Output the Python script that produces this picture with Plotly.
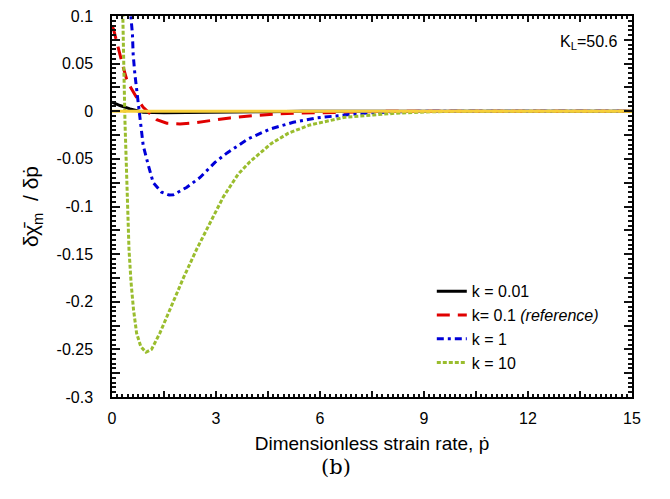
import plotly.graph_objects as go

# ---- data ----
p_k001 = [0, 0.23, 0.52, 0.9, 1.5, 2.5, 3.5, 4.5, 5.5, 15]
v_k001 = [0.0095, 0.006, 0.0025, -0.001, -0.0015, -0.0014, -0.001, -0.0005, 0, 0]

p_k01 = [0, 0.04, 0.13, 0.23, 0.31, 0.42, 0.54, 0.76, 0.9, 1.05, 1.29, 1.58, 1.96,
         2.3, 2.73, 3.4, 4.12, 4.75, 5.42, 6.08, 7.0, 8, 15]
v_k01 = [0.089, 0.0866, 0.074, 0.0586, 0.048, 0.034, 0.025, 0.0113, 0.0042, -0.001,
         -0.0088, -0.0126, -0.0133, -0.0125, -0.0105, -0.007, -0.0045, -0.0028,
         -0.002, -0.0014, -0.0006, 0, 0]

p_k1 = [0.52, 0.55, 0.59, 0.61, 0.66, 0.71, 0.76, 0.81, 0.9, 1.05, 1.19, 1.43, 1.65,
        1.77, 2.15, 2.54, 2.97, 3.31, 3.6, 3.93, 4.56, 4.89, 5.23, 5.9, 6.58, 7.24,
        8.0, 9, 15]
v_k1 = [0.13, 0.097, 0.081, 0.060, 0.039, 0.022, 0.0077, -0.012, -0.036, -0.057,
        -0.075, -0.085, -0.088, -0.0877, -0.080, -0.0695, -0.0537, -0.044, -0.0368,
        -0.029, -0.0186, -0.015, -0.0116, -0.007, -0.0045, -0.002, -0.0008, 0, 0]

p_k10 = [0.28, 0.32, 0.345, 0.375, 0.40, 0.44, 0.49, 0.55, 0.62, 0.71, 0.83, 0.98,
         1.14, 1.38, 1.72, 2.06, 2.44, 2.83, 3.21, 3.64, 3.98, 4.59, 5.09, 5.71,
         6.05, 6.72, 7.54, 8.2, 9.0, 10, 15]
v_k10 = [0.16, 0.102, 0.039, -0.012, -0.047, -0.099, -0.145, -0.18, -0.208, -0.233,
         -0.247, -0.253, -0.250, -0.233, -0.203, -0.175, -0.145, -0.117, -0.09,
         -0.066, -0.053, -0.034, -0.023, -0.0144, -0.0116, -0.0063, -0.0039, -0.002,
         -0.0008, 0, 0]

p_zero = [0, 15]
v_zero = [0, 0]

x_tickvals = [0, 3, 6, 9, 12, 15]
x_ticktext = ["0", "3", "6", "9", "12", "15"]
y_tickvals = [0.1, 0.05, 0, -0.05, -0.1, -0.15, -0.2, -0.25, -0.3]
y_ticktext = ["0.1", "0.05", "0", "-0.05", "-0.1", "-0.15", "-0.2", "-0.25", "-0.3"]

series_names = ["k = 0.01", "k= 0.1 <i>(reference)</i>", "k = 1", "k = 10"]

fig = go.Figure()
fig.add_trace(go.Scatter(x=[], y=[], xaxis="x2", yaxis="y2", showlegend=False,
                         hoverinfo="skip"))
fig.add_trace(go.Scatter(x=p_k001, y=v_k001, mode="lines", name=series_names[0],
                         line=dict(color="black", width=3)))
fig.add_trace(go.Scatter(x=p_k01, y=v_k01, mode="lines", name=series_names[1],
                         line=dict(color="#E00000", width=3, dash="13px,8px")))
fig.add_trace(go.Scatter(x=p_k1, y=v_k1, mode="lines", name=series_names[2],
                         line=dict(color="#0000D8", width=3, dash="7px,4px,3px,4px")))
fig.add_trace(go.Scatter(x=p_k10, y=v_k10, mode="lines", name=series_names[3],
                         line=dict(color="#9ABD2E", width=3, dash="4px,2px")))
fig.add_trace(go.Scatter(x=p_zero, y=v_zero, mode="lines", showlegend=False,
                         line=dict(color="#F7CF3A", width=3)))

axis_font = dict(family="Liberation Sans, Arial", size=16, color="black")
XR = [0, 15]
YR = [-0.3, 0.1]
TICKC = "#111111"

fig.update_layout(
    width=670, height=499,
    margin=dict(l=112, r=38, t=8, b=102),
    paper_bgcolor="white", plot_bgcolor="white",
    showlegend=True,
    legend=dict(x=0.615, y=0.322, xanchor="left", yanchor="top",
                bgcolor="rgba(0,0,0,0)", borderwidth=0, tracegroupgap=0,
                font=dict(family="Liberation Sans, Arial", size=16, color="black")),
    xaxis=dict(range=XR, showline=True, linecolor="black", linewidth=1.5,
               mirror="ticks", ticks="inside", ticklen=6, tickwidth=2,
               tickcolor=TICKC, tickmode="array", tickvals=x_tickvals,
               ticktext=x_ticktext, tickfont=axis_font, showgrid=False,
               zeroline=False, ticklabelstandoff=6,
               minor=dict(ticks="inside", ticklen=3, tickwidth=2,
                          tickcolor=TICKC, dtick=0.15, showgrid=False),
               title=dict(text="Dimensionless strain rate, p\u0307",
                          font=dict(family="Liberation Sans, Arial", size=19,
                                    color="black"), standoff=11)),
    yaxis=dict(range=YR, showline=True, linecolor="black", linewidth=1.5,
               mirror="ticks", ticks="inside", ticklen=8, tickwidth=2,
               tickcolor=TICKC, tickmode="array", tickvals=y_tickvals,
               ticktext=y_ticktext, tickfont=axis_font, showgrid=False,
               zeroline=False, ticklabelstandoff=14,
               minor=dict(ticks="inside", ticklen=4, tickwidth=2,
                          tickcolor=TICKC, dtick=0.005, showgrid=False),
               title=dict(text="\u03b4\u03c7\u0304<sub>m</sub>  / \u03b4p\u0307",
                          font=dict(family="Liberation Sans, Arial", size=21,
                                    color="black"), standoff=12)),
    xaxis2=dict(range=XR, overlaying="x", anchor="y2", side="bottom",
                showline=False, mirror="ticks", ticks="inside", ticklen=6,
                tickwidth=2, tickcolor=TICKC, tickmode="linear", tick0=0,
                dtick=1.5, showticklabels=False, showgrid=False, zeroline=False),
    yaxis2=dict(range=YR, overlaying="y", anchor="x2", side="left",
                showline=False, mirror="ticks", ticks="inside", ticklen=8,
                tickwidth=2, tickcolor=TICKC, tickmode="linear", tick0=0,
                dtick=0.025, showticklabels=False, showgrid=False, zeroline=False),
)

fig.add_annotation(x=0.975, y=0.93, xref="paper", yref="paper", xanchor="right",
                   yanchor="middle", showarrow=False, text="K<sub>L</sub>=50.6",
                   font=dict(family="Liberation Sans, Arial", size=16, color="black"))
fig.add_annotation(x=0.43, y=-0.185, xref="paper", yref="paper", xanchor="center",
                   yanchor="middle", showarrow=False, text="(b)",
                   font=dict(family="DejaVu Serif, Liberation Serif", size=21,
                             color="black"))

fig.write_html("out.html")
